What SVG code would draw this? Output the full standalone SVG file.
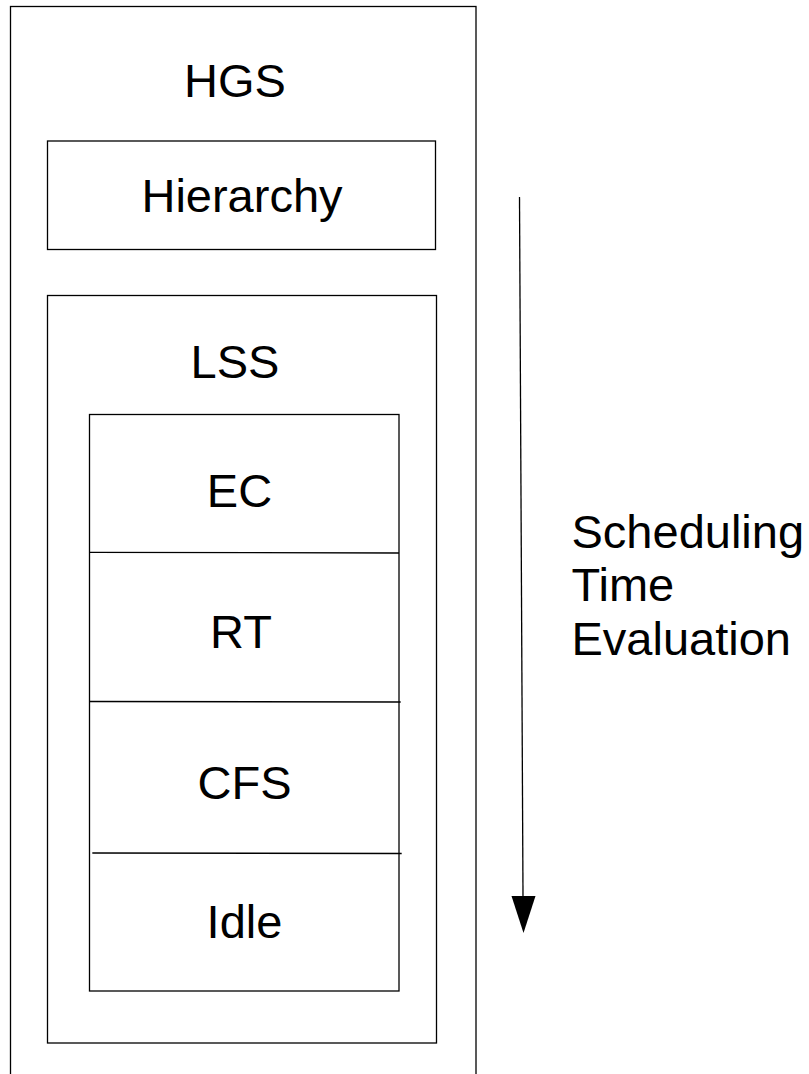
<svg xmlns="http://www.w3.org/2000/svg" width="809" height="1074" viewBox="0 0 809 1074">
  <style>
    .box { fill: none; stroke: #000; stroke-width: 1.3; }
    .sep { stroke: #000; stroke-width: 1.3; }
    .lbl { font-family: "Liberation Sans", Arial, sans-serif; font-size: 47px; fill: #000; text-anchor: middle; }
    .side { font-family: "Liberation Sans", Arial, sans-serif; font-size: 47px; fill: #000; }
  </style>
  <rect width="809" height="1074" fill="#fff"/>

  <!-- outer scheduler container, runs off the bottom edge -->
  <g id="hgs">
    <rect class="box" x="10.5" y="6.5" width="465.5" height="1090"/>
    <text class="lbl" x="235" y="97">HGS</text>
  </g>

  <g id="hierarchy">
    <rect class="box" x="47.5" y="141" width="388" height="108.5"/>
    <text class="lbl" x="242" y="212">Hierarchy</text>
  </g>

  <g id="lss">
    <rect class="box" x="47.5" y="295.5" width="389" height="747.5"/>
    <text class="lbl" x="235" y="378">LSS</text>
  </g>

  <!-- stacked scheduling classes -->
  <g id="classes">
    <rect class="box" x="89.5" y="414.5" width="309.5" height="576.5"/>
    <line class="sep" x1="89.5" y1="552.3" x2="399" y2="553"/>
    <line class="sep" x1="89.5" y1="701.5" x2="400.7" y2="702"/>
    <line class="sep" x1="92.3" y1="853" x2="401.7" y2="853.5"/>
  </g>
  <g id="ec">
    <text class="lbl" x="239.5" y="507">EC</text>
  </g>
  <g id="rt">
    <text class="lbl" x="241" y="648">RT</text>
  </g>
  <g id="cfs">
    <text class="lbl" x="244.5" y="799">CFS</text>
  </g>
  <g id="idle">
    <text class="lbl" x="244.5" y="938">Idle</text>
  </g>

  <g id="connectors">
    <line x1="519.5" y1="197" x2="523" y2="896" stroke="#000" stroke-width="1.3"/>
    <path d="M511.5,896 L535.5,896 L523.5,933 Z" fill="#000"/>
  </g>

  <g id="time-label">
    <text class="side" x="571.5" y="548">Scheduling</text>
    <text class="side" x="571.5" y="601">Time</text>
    <text class="side" x="571.5" y="655">Evaluation</text>
  </g>
</svg>
